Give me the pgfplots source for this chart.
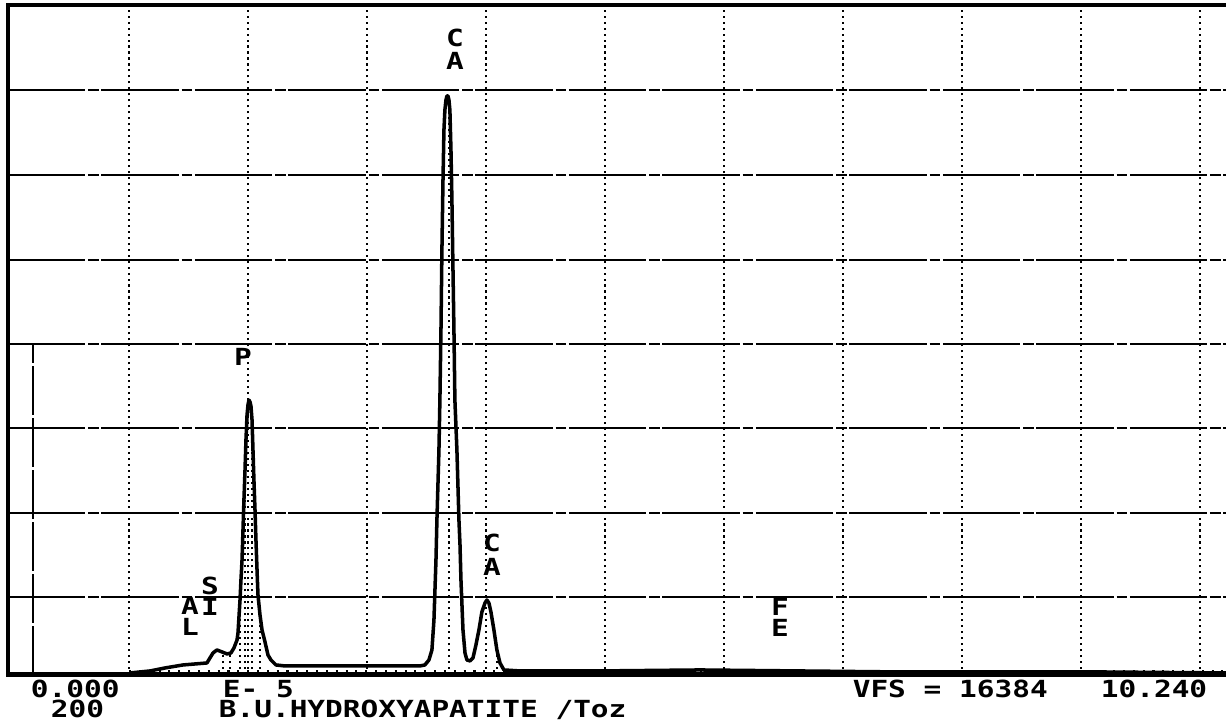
\documentclass[border=0pt]{standalone}
\usepackage{fontspec}
\newfontfamily\plotfont{DejaVu Sans Mono}
\usepackage{pgfplots}
\pgfplotsset{compat=1.18}

\begin{document}
\begin{tikzpicture}[
    lbl/.style={font=\plotfont\bfseries\fontsize{6.7}{7.5}\selectfont, xscale=1.25, inner sep=0pt},
    roi/.style={black, line width=0.7pt, dash pattern=on 0.6pt off 1.1pt},
]
\begin{axis}[
    name=ax,
    scale only axis,
    width=121.8mm, height=67mm,
    xmin=-0.017, xmax=10.22,
    ymin=0, ymax=670,
    xtick={1,2,...,10},
    ytick={78,162,247,331,415,500,585},
    xticklabels={}, yticklabels={},
    major tick length=0pt,
    axis line style={draw=none},
    grid=major,
    x grid style={black, line width=0.75pt, dash pattern=on 0.6pt off 1.1pt},
    y grid style={black, line width=0.65pt, dash pattern=on 22pt off 0.8pt on 3pt off 0.8pt},
    clip=false,
]
% frame (no right edge)
\draw[line width=1.4pt] (rel axis cs:1,1) -- (rel axis cs:0,1) -- (rel axis cs:0,0) -- (rel axis cs:1,0);

% left marker line
\addplot[black, line width=0.8pt, dash pattern=on 14pt off 0.8pt] coordinates {(0.193,0) (0.193,331)};

% dotted floor row
\addplot[black, line width=0.7pt, dash pattern=on 0.6pt off 2.2pt] coordinates {(1.0,4) (10.22,4)};

% ROI markers inside the peaks
\addplot[roi] coordinates {(3.689,0) (3.689,570)};
\addplot[roi] coordinates {(1.975,0) (1.975,200)};
\addplot[roi] coordinates {(2.034,0) (2.034,250)};
\addplot[roi] coordinates {(1.790,0) (1.790,22)};
\addplot[roi] coordinates {(1.849,0) (1.849,22)};
\addplot[roi] coordinates {(1.933,0) (1.933,70)};
\addplot[roi] coordinates {(2.101,0) (2.101,58)};
\addplot[roi] coordinates {(4.092,0) (4.092,24)};

% spectrum
\addplot[black, line width=1pt, line join=round] table {
1.008 2
1.176 4
1.303 7
1.454 10
1.555 11
1.655 12
1.706 22
1.739 25
1.782 23
1.824 21
1.857 22
1.882 27
1.908 35
1.916 42
1.933 75
1.941 95
1.950 115
1.958 145
1.966 175
1.975 205
1.983 235
1.992 260
2.000 270
2.008 275
2.017 273
2.025 269
2.034 255
2.042 225
2.050 195
2.059 165
2.067 135
2.076 105
2.084 80
2.101 60
2.118 45
2.143 33
2.168 20
2.193 15
2.235 10
2.311 9
2.605 9
3.109 9
3.445 9
3.487 10
3.521 15
3.546 25
3.563 55
3.580 115
3.588 155
3.605 225
3.613 275
3.622 345
3.630 425
3.639 495
3.647 545
3.655 565
3.664 575
3.672 579
3.681 579
3.689 575
3.697 565
3.706 525
3.714 475
3.723 405
3.731 345
3.739 275
3.756 225
3.773 155
3.782 130
3.790 95
3.807 45
3.824 22
3.840 15
3.866 14
3.891 17
3.916 30
3.941 45
3.966 63
3.992 72
4.008 75
4.025 72
4.042 63
4.067 45
4.092 25
4.118 12
4.151 5
4.286 4
4.958 4
5.798 5
6.639 4
7.479 3
8.319 3
9.160 3
10.218 2
};

% peak labels
\node[lbl] at (axis cs:1.958,318) {P};
\node[lbl] at (axis cs:3.739,637) {C};
\node[lbl] at (axis cs:3.739,614) {A};
\node[lbl] at (axis cs:4.050,132) {C};
\node[lbl] at (axis cs:4.050,108) {A};
\node[lbl] at (axis cs:1.513,69) {A};
\node[lbl] at (axis cs:1.513,48) {L};
\node[lbl] at (axis cs:1.681,89) {S};
\node[lbl] at (axis cs:1.681,68) {I};
\node[lbl] at (axis cs:6.471,68) {F};
\node[lbl] at (axis cs:6.471,47) {E};

% footer text
\node[lbl, anchor=base west] at (axis cs:0.168,-23) {0.000};
\node[lbl, anchor=base west] at (axis cs:0.336,-43) {200};
\node[lbl, anchor=base west] at (axis cs:1.782,-23) {E- 5};
\node[lbl, anchor=base west] at (axis cs:1.748,-43) {B.U.HYDROXYAPATITE /Toz};
\node[lbl, anchor=base west] at (axis cs:7.076,-23) {VFS = 16384\ \ \ 10.240};
\end{axis}
\pgfresetboundingbox
\path ([xshift=-0.8mm,yshift=-5mm]ax.south west) rectangle ([yshift=0.5mm]ax.north east);
\end{tikzpicture}
\end{document}
